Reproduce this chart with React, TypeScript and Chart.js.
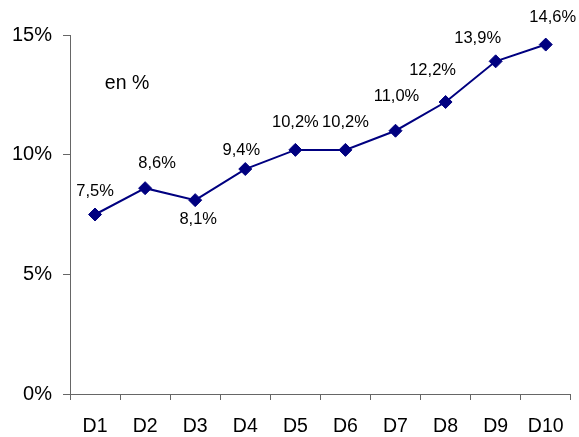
import React, { useEffect, useRef } from "react";
import { Chart, registerables } from "chart.js";

Chart.register(...registerables);

const categories = ["D1", "D2", "D3", "D4", "D5", "D6", "D7", "D8", "D9", "D10"];
const values = [7.5, 8.6, 8.1, 9.4, 10.2, 10.2, 11.0, 12.2, 13.9, 14.6];
const yTicks = [0, 5, 10, 15];
const annotationText = "en %";

// label placement relative to each point (style only)
const labelDx = [0, 12, 3, -4, 0, 0, 1, -13, -18, 7];
const labelDy = [-23, -25, 19, -19, -27, -27, -34, -32, -23, -27];

const FONT = "'Liberation Sans', Arial, sans-serif";

const fmt = (v: number) => v.toFixed(1).replace(".", ",") + "%";

const labelPlugin = {
  id: "valueLabels",
  afterDatasetsDraw(chart: any) {
    const ctx = chart.ctx;
    const meta = chart.getDatasetMeta(0);
    ctx.save();
    ctx.fillStyle = "#000";
    ctx.font = `16.5px ${FONT}`;
    ctx.textAlign = "center";
    ctx.textBaseline = "middle";
    meta.data.forEach((pt: any, i: number) => {
      ctx.fillText(fmt(values[i]), pt.x + labelDx[i], pt.y + labelDy[i]);
    });
    ctx.font = `19.5px ${FONT}`;
    const xs = chart.scales.x;
    const ys = chart.scales.y;
    ctx.fillText(annotationText, (xs.getPixelForValue(0) + xs.getPixelForValue(1)) / 2 + 7, ys.getPixelForValue(12.95));
    ctx.restore();
  },
};

export default function App() {
  const ref = useRef<HTMLCanvasElement | null>(null);
  useEffect(() => {
    if (!ref.current) return;
    const chart = new Chart(ref.current, {
      type: "line",
      data: {
        labels: categories,
        datasets: [
          {
            data: values,
            borderColor: "#000080",
            backgroundColor: "#000080",
            borderWidth: 2,
            pointStyle: "rectRot",
            pointRadius: 6.5,
            pointBorderWidth: 1,
            pointBackgroundColor: "#000080",
            pointBorderColor: "#000080",
            tension: 0,
          },
        ],
      },
      options: {
        animation: false,
        responsive: false,
        maintainAspectRatio: false,
        layout: { padding: { left: 0, right: 5, top: 35, bottom: 0 } },
        plugins: { legend: { display: false }, tooltip: { enabled: false } },
        scales: {
          x: {
            type: "category",
            offset: true,
            grid: { display: true, drawOnChartArea: false, offset: true, tickLength: 6, color: "#666", tickWidth: 1 },
            border: { display: true, color: "#666", width: 1 },
            ticks: { color: "#000", font: { family: FONT, size: 19.5 }, padding: 15, autoSkip: false, maxRotation: 0 },
            afterFit: (s: any) => {
              s.height = 43;
            },
          },
          y: {
            min: 0,
            max: 15,
            afterBuildTicks: (s: any) => {
              s.ticks = yTicks.map((v) => ({ value: v }));
            },
            grid: { display: true, drawOnChartArea: false, tickLength: 7, color: "#666", tickWidth: 1 },
            border: { display: true, color: "#666", width: 1 },
            ticks: {
              color: "#000",
              font: { family: FONT, size: 20 },
              padding: 11,
              callback: (v: any) => v + "%",
            },
            afterFit: (s: any) => {
              s.width = 70;
            },
          },
        },
      },
      plugins: [labelPlugin],
    });
    return () => chart.destroy();
  }, []);
  return (
    <div style={{ position: "fixed", left: 0, top: 0, width: 579, height: 437, background: "#fff" }}>
      <canvas ref={ref} width={579} height={437} style={{ width: 579, height: 437, display: "block" }} />
    </div>
  );
}
